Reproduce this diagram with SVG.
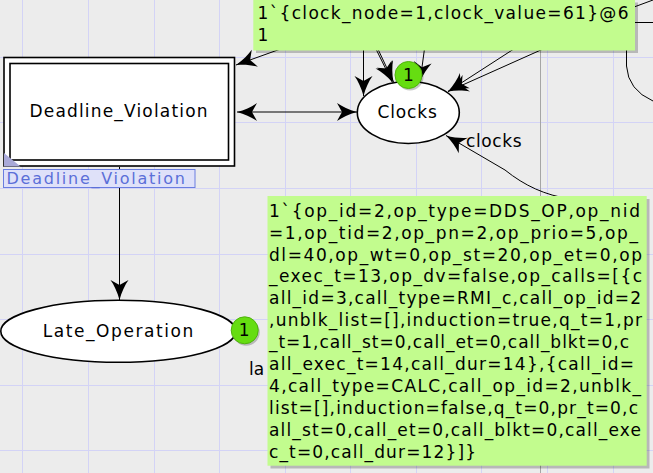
<svg xmlns="http://www.w3.org/2000/svg" width="653" height="473" viewBox="0 0 653 473">
<style>
.grid{stroke:#d3d3f6;stroke-width:1}
.arc{fill:none;stroke:#000;stroke-width:1}
.t{font-family:"DejaVu Sans","Liberation Sans",sans-serif;font-size:17px;fill:#000}
.lbl{font-family:"DejaVu Sans","Liberation Sans",sans-serif;font-size:17px;fill:#000}
.tok{fill:#66dd11;stroke:#4fb30c;stroke-width:1}
.box{fill:#c2fc8e}
.shadow{fill:#000;opacity:0.22}
</style>
<defs>
<marker id="ah" viewBox="-21 -10 22 20" refX="0" refY="0" markerWidth="22" markerHeight="20" markerUnits="userSpaceOnUse" orient="auto-start-reverse">
<path d="M0,0 C-8,-2 -15,-5.5 -20,-9 L-15,0 L-20,9 C-15,5.5 -8,2 0,0 Z" fill="#000"/>
</marker>
</defs>
<rect width="653" height="473" fill="#ececec"/>
<g id="grid">
<line class="grid" x1="22.5" y1="0" x2="22.5" y2="473"/>
<line class="grid" x1="88.5" y1="0" x2="88.5" y2="473"/>
<line class="grid" x1="154.5" y1="0" x2="154.5" y2="473"/>
<line class="grid" x1="219.5" y1="0" x2="219.5" y2="473"/>
<line class="grid" x1="285.5" y1="0" x2="285.5" y2="473"/>
<line class="grid" x1="350.5" y1="0" x2="350.5" y2="473"/>
<line class="grid" x1="416.5" y1="0" x2="416.5" y2="473"/>
<line class="grid" x1="481.5" y1="0" x2="481.5" y2="473"/>
<line class="grid" x1="547.5" y1="0" x2="547.5" y2="473"/>
<line class="grid" x1="613.5" y1="0" x2="613.5" y2="473"/>
<line class="grid" x1="0" y1="57.5" x2="653" y2="57.5"/>
<line class="grid" x1="0" y1="122.5" x2="653" y2="122.5"/>
<line class="grid" x1="0" y1="188.5" x2="653" y2="188.5"/>
<line class="grid" x1="0" y1="254.5" x2="653" y2="254.5"/>
<line class="grid" x1="0" y1="319.5" x2="653" y2="319.5"/>
<line class="grid" x1="0" y1="385.5" x2="653" y2="385.5"/>
<line class="grid" x1="0" y1="450.5" x2="653" y2="450.5"/>
<line x1="540.5" y1="0" x2="540.5" y2="473" stroke="#a5a5a5" stroke-width="1"/>
</g>
<g id="connectors">
<line class="arc" x1="237" y1="112" x2="357" y2="112" marker-start="url(#ah)" marker-end="url(#ah)"/>
<line class="arc" x1="119.5" y1="167" x2="119.5" y2="300" marker-end="url(#ah)"/>
<line class="arc" x1="300" y1="42" x2="236" y2="65" marker-end="url(#ah)"/>
<line class="arc" x1="363.5" y1="45" x2="363.5" y2="96" marker-end="url(#ah)"/>
<line class="arc" x1="374" y1="45" x2="392.5" y2="82.5" marker-end="url(#ah)"/>
<line class="arc" x1="376" y1="45" x2="393.5" y2="82" marker-end="url(#ah)"/>
<line class="arc" x1="425" y1="45" x2="420" y2="82" marker-end="url(#ah)"/>
<line class="arc" x1="520" y1="45" x2="448" y2="91.5" marker-end="url(#ah)"/>
<line class="arc" x1="552" y1="45" x2="448" y2="91.5" marker-end="url(#ah)"/>
<path class="arc" d="M570 199 C545 195 525 186 505 170 L446 135.5" marker-end="url(#ah)"/>
<path class="arc" d="M626.5 45 L626.5 66 Q628 90 653 101"/>
<line class="arc" x1="630" y1="8.5" x2="653" y2="0"/>
<line class="arc" x1="630" y1="22.5" x2="653" y2="22.5"/>
</g>
<g id="Deadline_Violation">
<rect x="4" y="57.5" width="230.5" height="108.5" fill="#fff" stroke="#000" stroke-width="1.6"/>
<rect x="10" y="63.5" width="218.5" height="96.5" fill="#fff" stroke="#000" stroke-width="1.6"/>
<polygon points="4,153 4,166.5 20.5,166.5" fill="#a9a9d8"/>
<text class="t" x="29.5" y="117.3" textLength="178" lengthAdjust="spacing">Deadline_Violation</text>
</g>
<g id="Deadline_Violation_label">
<rect x="3.5" y="169.5" width="191.5" height="18" fill="#dfe1f9" stroke="#6a7de0" stroke-width="1"/>
<text x="6.5" y="184" font-family="DejaVu Sans, Liberation Sans, sans-serif" font-size="16" fill="#5b6fd8" textLength="178.5" lengthAdjust="spacing">Deadline_Violation</text>
</g>
<g id="Clocks">
<ellipse cx="408.3" cy="112.5" rx="51" ry="31" fill="#fff" stroke="#000" stroke-width="1.6"/>
<text class="t" x="377.5" y="117.5" textLength="59.3" lengthAdjust="spacing">Clocks</text>
<circle cx="410" cy="77" r="13.5" class="shadow"/>
<circle cx="408.5" cy="75" r="13.5" class="tok"/>
<text class="t" x="408.5" y="80.5" font-size="16" text-anchor="middle">1</text>
</g>
<g id="Late_Operation">
<ellipse cx="118.3" cy="331.3" rx="117.5" ry="31" fill="#fff" stroke="#000" stroke-width="1.6"/>
<text class="t" x="42.7" y="336.7" textLength="150.6" lengthAdjust="spacing">Late_Operation</text>
<circle cx="246.2" cy="332.3" r="13.5" class="shadow"/>
<circle cx="244.7" cy="330.3" r="13.5" class="tok"/>
<text class="t" x="244.2" y="336" font-size="16" text-anchor="middle">1</text>
</g>
<g id="arc_labels">
<text class="t" x="466" y="147.3" font-size="16.5" textLength="55.7" lengthAdjust="spacing">clocks</text>
<text class="t" x="249" y="374.5" font-size="16.5">la</text>
</g>
<g id="clock_marking">
<rect x="256" y="2.5" width="382" height="50.5" class="shadow"/>
<rect x="253.3" y="0" width="381.7" height="50.5" class="box"/>
<text class="lbl" x="257.5" y="19.3" textLength="371" lengthAdjust="spacing">1`{clock_node=1,clock_value=61}@6</text>
<text class="lbl" x="257.5" y="40.5">1</text>
</g>
<g id="late_marking">
<rect x="270.5" y="199" width="379" height="269.5" class="shadow"/>
<rect x="267.5" y="196" width="379.2" height="269.7" class="box"/>
<text class="lbl" x="269" y="216.7" textLength="371" lengthAdjust="spacing">1`{op_id=2,op_type=DDS_OP,op_nid</text>
<text class="lbl" x="269" y="238.6" textLength="369" lengthAdjust="spacing">=1,op_tid=2,op_pn=2,op_prio=5,op_</text>
<text class="lbl" x="269" y="260.5" textLength="373" lengthAdjust="spacing">dl=40,op_wt=0,op_st=20,op_et=0,op</text>
<text class="lbl" x="269" y="282.4" textLength="373" lengthAdjust="spacing">_exec_t=13,op_dv=false,op_calls=[{c</text>
<text class="lbl" x="269" y="304.3" textLength="372" lengthAdjust="spacing">all_id=3,call_type=RMI_c,call_op_id=2</text>
<text class="lbl" x="269" y="326.2" textLength="373" lengthAdjust="spacing">,unblk_list=[],induction=true,q_t=1,pr</text>
<text class="lbl" x="269" y="348.1" textLength="360" lengthAdjust="spacing">_t=1,call_st=0,call_et=0,call_blkt=0,c</text>
<text class="lbl" x="269" y="370" textLength="365" lengthAdjust="spacing">all_exec_t=14,call_dur=14},{call_id=</text>
<text class="lbl" x="269" y="391.9" textLength="372" lengthAdjust="spacing">4,call_type=CALC,call_op_id=2,unblk_</text>
<text class="lbl" x="269" y="413.8" textLength="369" lengthAdjust="spacing">list=[],induction=false,q_t=0,pr_t=0,c</text>
<text class="lbl" x="269" y="435.7" textLength="372" lengthAdjust="spacing">all_st=0,call_et=0,call_blkt=0,call_exe</text>
<text class="lbl" x="269" y="457.6" textLength="207" lengthAdjust="spacing">c_t=0,call_dur=12}]}</text>
</g>
</svg>
